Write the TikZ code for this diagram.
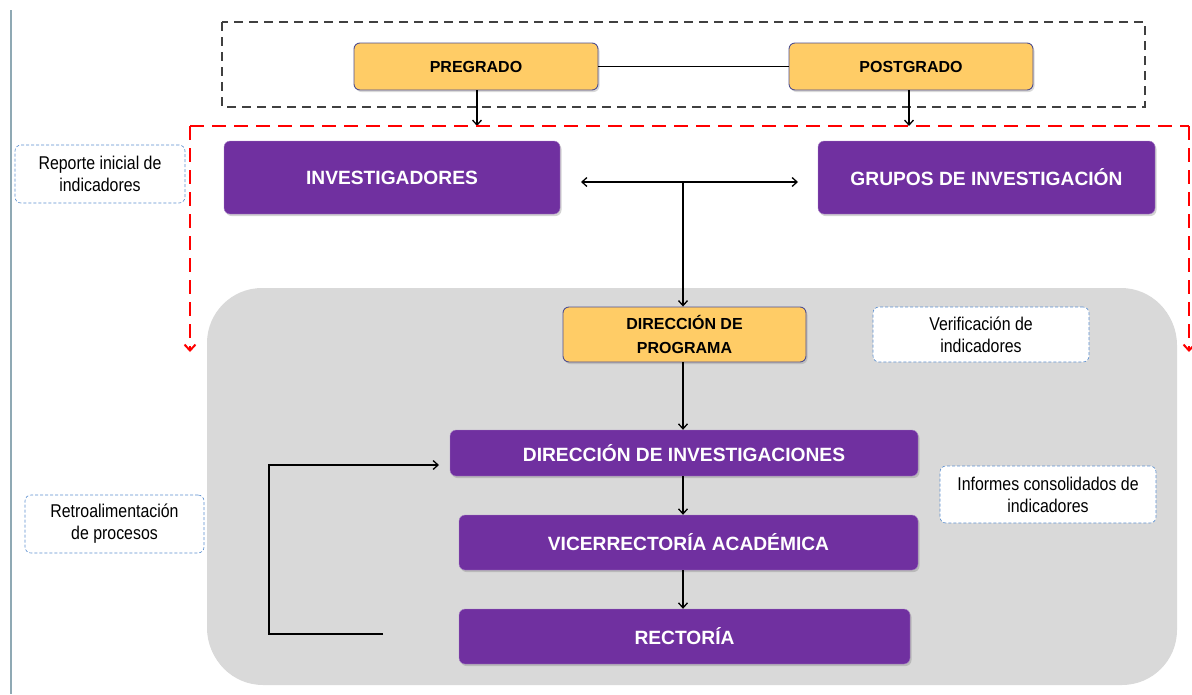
\documentclass[tikz,border=0pt]{standalone}
\usepackage{fontspec}
\setmainfont{Liberation Sans}
\newfontfamily\notefont[FakeStretch=0.86]{Liberation Sans}
\usetikzlibrary{arrows.meta,shadows}
\definecolor{purp}{HTML}{7030A0}
\definecolor{orng}{HTML}{FFCC66}
\definecolor{obord}{HTML}{4F4F8F}
\definecolor{lblue}{HTML}{5B8FCF}
\definecolor{graybg}{HTML}{D9D9D9}
\definecolor{rulec}{HTML}{8FA9B4}
\tikzset{
  purbox/.style={draw=purp!60!white, fill=purp, rounded corners=6pt, text=white, font=\bfseries\fontsize{19.2}{22}\selectfont, inner sep=0pt, drop shadow={shadow xshift=1.5pt, shadow yshift=-2pt, opacity=0.35}},
  orbox/.style={draw=obord, line width=0.9pt, fill=orng, rounded corners=6pt, text=black, font=\bfseries\fontsize{16}{24.5}\selectfont, align=center, inner sep=0pt, drop shadow={shadow xshift=1.5pt, shadow yshift=-2pt, opacity=0.3}},
  notebox/.style={draw=lblue, densely dashed, line width=0.6pt, fill=white, rounded corners=6pt, font=\notefont\fontsize{18.5}{22}\selectfont, align=center, inner sep=0pt},
  arr/.style={-{Straight Barb[length=5pt,width=9pt]}, line width=1.3pt},
  redl/.style={red, line width=2pt, dash pattern=on 14pt off 8pt},
}
\begin{document}
\begin{tikzpicture}[x=1pt,y=-1pt]
\useasboundingbox (0,0) rectangle (1192,694);
% left rule
\draw[color=rulec, line width=1.2pt] (11,10) -- (11,694);
% gray region
\fill[graybg, rounded corners=55pt, drop shadow={shadow xshift=1pt, shadow yshift=-2pt, opacity=0.3}] (207,288) rectangle (1176,683);
% black dashed box
\draw[black!75, line width=1.5pt, dash pattern=on 9pt off 6pt] (222,22) rectangle (1145,107);
% nodes
\node[orbox, minimum width=244pt, minimum height=47pt] (pre) at (476,66.5) {PREGRADO};
\node[orbox, minimum width=244pt, minimum height=47pt] (post) at (911,66.5) {POSTGRADO};
\node[purbox, minimum width=336pt, minimum height=73pt] (inv) at (392,177.5) {INVESTIGADORES};
\node[purbox, minimum width=337pt, minimum height=73pt] (gru) at (986.5,177.5) {GRUPOS DE INVESTIGACIÓN};
\node[orbox, minimum width=243pt, minimum height=55pt] (dp) at (684.5,334.5) {DIRECCIÓN DE\\PROGRAMA};
\node[purbox, minimum width=468pt, minimum height=46pt] (di) at (684,453) {DIRECCIÓN DE INVESTIGACIONES};
\node[purbox, minimum width=459pt, minimum height=55pt] (va) at (688.5,542.5) {VICERRECTORÍA ACADÉMICA};
\node[purbox, minimum width=451pt, minimum height=55pt] (re) at (684.5,636.5) {RECTORÍA};
\node[notebox, minimum width=170pt, minimum height=58pt] (n1) at (100,174) {Reporte inicial de\\indicadores};
\node[notebox, minimum width=216pt, minimum height=55pt] (n2) at (981,334.5) {Verificación de\\indicadores};
\node[notebox, minimum width=216pt, minimum height=57pt] (n3) at (1048,494.5) {Informes consolidados de\\indicadores};
\node[notebox, minimum width=179pt, minimum height=58pt] (n4) at (114.5,524) {Retroalimentación\\de procesos};
% connectors
\draw[line width=1pt] (pre.east) -- (post.west);
\coordinate (ra) at (477,126);
\coordinate (rb) at (909,126);
\draw[arr] (pre.south -| ra) -- (ra);
\draw[arr] (post.south -| rb) -- (rb);
% red dashed
\coordinate (rl) at (190,352);
\coordinate (rr) at (1189,352);
\draw[redl, -{Straight Barb[length=6pt,width=11pt]}] (190,126) -- (rl);
\draw[redl] (190,126) -- (1189,126);
\draw[redl, -{Straight Barb[length=6pt,width=11pt]}] (1189,126) -- (rr);
% double arrow
\coordinate (dl) at (581,182);
\coordinate (dr) at (798,182);
\coordinate (dm) at (683,182);
\draw[arr, {Straight Barb[length=5pt,width=9pt]}-{Straight Barb[length=5pt,width=9pt]}] (dl) -- (dr);
\draw[arr] (dm) -- (dm |- dp.north);
\draw[arr] (dp.south -| dm) -- (dm |- di.north);
\draw[arr] (di.south -| dm) -- (dm |- va.north);
\draw[arr] (va.south -| dm) -- (dm |- re.north);
% feedback loop
\coordinate (fa) at (383,634);
\coordinate (fb) at (269,634);
\coordinate (fc) at (269,465);
\coordinate (fd) at (439,465);
\draw[arr] (fa) -- (fb) -- (fc) -- (fd);
\end{tikzpicture}
\end{document}
